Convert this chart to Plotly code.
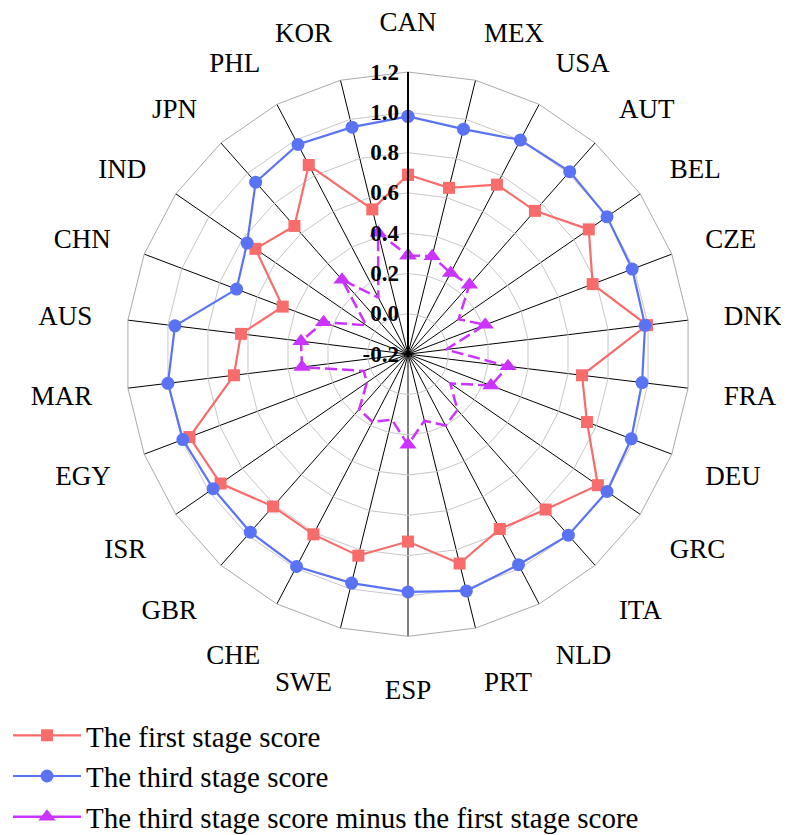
import plotly.graph_objects as go

categories = ["CAN", "MEX", "USA", "AUT", "BEL", "CZE", "DNK", "FRA", "DEU", "GRC",
              "ITA", "NLD", "PRT", "ESP", "SWE", "CHE", "GBR", "ISR", "EGY", "MAR",
              "AUS", "CHN", "IND", "JPN", "PHL", "KOR"]

first_stage = [0.69, 0.65, 0.75, 0.75, 0.89, 0.78, 0.995, 0.67, 0.75, 0.945,
               0.83, 0.78, 0.87, 0.73, 0.83, 0.81, 0.81, 0.93, 0.96, 0.67,
               0.635, 0.465, 0.72, 0.65, 0.86, 0.54]

third_stage = [0.98, 0.95, 1.00, 1.01, 1.00, 0.99, 0.985, 0.97, 0.985, 1.00,
               1.00, 0.98, 1.01, 0.98, 0.97, 0.99, 0.98, 0.975, 0.995, 1.00,
               0.965, 0.71, 0.77, 0.94, 0.975, 0.96]

difference = [0.29, 0.30, 0.255, 0.26, 0.105, 0.21, -0.01, 0.30, 0.24, 0.055,
              0.17, 0.20, 0.14, 0.25, 0.135, 0.18, 0.165, 0.048, 0.035, 0.33,
              0.335, 0.248, 0.052, 0.294, 0.117, 0.42]

series_names = ["The first stage score", "The third stage score",
                "The third stage score minus the first stage score"]

radial_ticks = [-0.2, 0.0, 0.2, 0.4, 0.6, 0.8, 1.0, 1.2]
radial_ticktext = ["-0.2", "0.0", "0.2", "0.4", "0.6", "0.8", "1.0", "1.2"]

SERIF = "Liberation Serif, Times New Roman, serif"
RED = "#F86C6C"
BLUE = "#5A73F5"
PURPLE = "#CC33FF"


def closed(vals):
    return list(vals) + [vals[0]]


fig = go.Figure()
fig.add_trace(go.Scatterpolar(
    r=closed(first_stage), theta=closed(categories), name=series_names[0],
    mode="lines+markers",
    line=dict(color=RED, width=2.2),
    marker=dict(symbol="square", size=12, color=RED),
))
fig.add_trace(go.Scatterpolar(
    r=closed(third_stage), theta=closed(categories), name=series_names[1],
    mode="lines+markers",
    line=dict(color=BLUE, width=2.2),
    marker=dict(symbol="circle", size=13, color=BLUE),
))
fig.add_trace(go.Scatterpolar(
    r=closed(difference), theta=closed(categories), name=series_names[2],
    mode="lines+markers", showlegend=False,
    line=dict(color=PURPLE, width=2.5, dash="12px,5px"),
    marker=dict(symbol="triangle-up", size=15, color=PURPLE),
))
# legend entry for the difference series (solid sample line, as in the reference legend)
fig.add_trace(go.Scatterpolar(
    r=[None], theta=[None], name=series_names[2],
    mode="lines+markers",
    line=dict(color=PURPLE, width=2.5),
    marker=dict(symbol="triangle-up", size=15, color=PURPLE),
    hoverinfo="skip",
))

fig.update_layout(
    width=789, height=835,
    margin=dict(l=0, r=0, t=0, b=0),
    paper_bgcolor="white",
    font=dict(family=SERIF, color="black"),
    polar=dict(
        domain=dict(x=[107 / 789, 693 / 789], y=[1 - 652.5 / 835, 1 - 66.5 / 835]),
        bgcolor="white",
        gridshape="linear",
        angularaxis=dict(
            direction="clockwise", rotation=90,
            categoryorder="array", categoryarray=categories,
            showgrid=True, gridcolor="black", gridwidth=1,
            showline=True, linecolor="#aaaaaa", linewidth=1,
            ticks="outside", ticklen=30, tickcolor="rgba(0,0,0,0)",
            tickfont=dict(family=SERIF, size=27, color="black"),
        ),
        radialaxis=dict(
            range=[-0.2, 1.2], angle=90, side="counterclockwise",
            tickvals=radial_ticks, ticktext=radial_ticktext,
            tickangle=90,
            showgrid=True, gridcolor="#c8c8c8", gridwidth=1,
            showline=True, linecolor="black", linewidth=2,
            ticks="",
            tickfont=dict(family=SERIF, size=23, color="black", weight="bold"),
        ),
    ),
    legend=dict(
        x=0.0, y=1 - 729 / 835, xanchor="left", yanchor="top",
        font=dict(family=SERIF, size=29, color="black"),
        itemwidth=68, tracegroupgap=0, bgcolor="rgba(0,0,0,0)",
    ),
)

fig.write_html("out.html")
